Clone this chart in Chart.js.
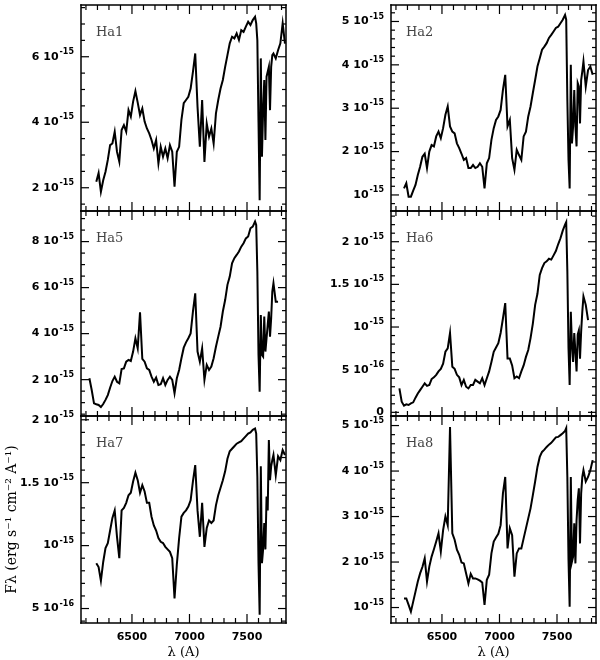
<!DOCTYPE html>
<html>
<head>
<meta charset="utf-8">
<script src="https://cdn.jsdelivr.net/npm/chart.js@4.4.1/dist/chart.umd.min.js"></script>
<style>
  body { margin: 0; background: #fff; }
  #wrap { position: relative; width: 600px; height: 660px; }
  #wrap canvas { position: absolute; left: 0; top: 0; }
</style>
</head>
<body>
<div id="wrap"></div>
<script>
// wavelength grid (Angstrom), finer around the telluric A band
const wavelength = [
  6130, 6150, 6170, 6190, 6210, 6230, 6250, 6270, 6290, 6310,
  6330, 6350, 6370, 6390, 6410, 6430, 6450, 6470, 6490, 6510,
  6530, 6550, 6570, 6590, 6610, 6630, 6650, 6670, 6690, 6710,
  6730, 6750, 6770, 6790, 6810, 6830, 6850, 6870, 6890, 6910,
  6930, 6950, 6970, 6990, 7010, 7030, 7050, 7070, 7090, 7110,
  7130, 7150, 7170, 7190, 7210, 7230, 7250, 7270, 7290, 7310,
  7330, 7350, 7370, 7390, 7410, 7430, 7450, 7470, 7490, 7510,
  7530, 7550, 7570,
  7580, 7590, 7600, 7610, 7620, 7630, 7640, 7650, 7660, 7670, 7680, 7690, 7700, 7710, 7720, 7730,
  7750, 7770, 7790, 7810, 7830
];

// flux in units of 1e-15 erg s-1 cm-2 A-1
const fluxHa1 = [
  null, null, null, 2.18, 2.45, 1.88, 2.23, 2.49, 2.85, 3.30,
  3.35, 3.71, 3.10, 2.80, 3.76, 3.91, 3.71, 4.37, 4.17, 4.63,
  4.95, 4.60, 4.22, 4.42, 4.02, 3.81, 3.66, 3.46, 3.20, 3.46,
  2.74, 3.25, 2.95, 3.20, 2.90, 3.30, 3.10, 2.03, 3.10, 3.25,
  4.07, 4.58, 4.68, 4.78, 5.03, 5.54, 6.10, 4.47, 3.25, 4.68,
  2.79, 3.96, 3.56, 3.81, 3.35, 4.27, 4.68, 5.03, 5.29, 5.69,
  6.05, 6.41, 6.61, 6.56, 6.71, 6.51, 6.81, 6.76, 6.92, 7.07,
  6.97, 7.12, 7.22,
  7.02, 6.50, 4.00, 1.62, 5.95, 2.95, 4.37, 5.29, 3.46, 5.39, 5.54, 5.69, 4.37, 5.69, 6.05, 6.10,
  5.95, 6.20, 6.41, 7.02, 6.40
];
const fluxHa2 = [
  null, null, 1.15, 1.27, 0.96, 0.96, 1.10, 1.23, 1.46, 1.65,
  1.88, 1.95, 1.62, 2.00, 2.15, 2.12, 2.35, 2.46, 2.31, 2.54,
  2.85, 3.04, 2.58, 2.46, 2.42, 2.19, 2.08, 1.95, 1.81, 1.85,
  1.62, 1.62, 1.69, 1.62, 1.65, 1.73, 1.65, 1.15, 1.73, 1.85,
  2.27, 2.54, 2.73, 2.81, 2.96, 3.42, 3.77, 2.58, 2.73, 1.85,
  1.58, 2.04, 1.92, 1.81, 2.35, 2.46, 2.81, 3.04, 3.35, 3.65,
  3.96, 4.15, 4.35, 4.42, 4.50, 4.62, 4.69, 4.77, 4.85, 4.88,
  4.96, 5.04, 5.15,
  5.04, 3.19, 1.81, 1.15, 4.00, 2.19, 2.58, 3.42, 2.58, 2.12, 3.58, 3.50, 2.65, 3.65, 3.85, 4.08,
  3.50, 3.88, 3.96, 3.77, null
];
const fluxHa5 = [
  2.06, 1.55, 0.97, 0.93, 0.90, 0.81, 0.94, 1.12, 1.33, 1.65,
  1.94, 2.13, 1.91, 1.84, 2.46, 2.49, 2.78, 2.86, 2.81, 3.22,
  3.80, 3.36, 4.93, 2.90, 2.78, 2.49, 2.42, 2.13, 1.91, 2.09,
  1.77, 1.80, 2.06, 1.77, 1.99, 2.13, 1.99, 1.41, 2.06, 2.42,
  2.93, 3.39, 3.62, 3.80, 4.01, 4.96, 5.75, 3.22, 2.78, 3.36,
  1.99, 2.64, 2.42, 2.57, 2.93, 3.43, 3.87, 4.30, 4.96, 5.46,
  6.12, 6.48, 7.06, 7.28, 7.42, 7.57, 7.78, 7.93, 8.14, 8.22,
  8.58, 8.65, 8.87,
  8.72, 6.70, 3.07, 1.48, 4.81, 3.07, 3.00, 4.74, 3.22, 3.80, 4.38, 4.96, 3.87, 4.67, 5.83, 6.19,
  5.39, 5.39, null, null, null
];
const fluxHa6 = [
  0.28, 0.125, 0.078, 0.094, 0.086, 0.105, 0.117, 0.172, 0.22, 0.26,
  0.30, 0.34, 0.31, 0.32, 0.39, 0.41, 0.44, 0.48, 0.51, 0.57,
  0.71, 0.75, 0.93, 0.535, 0.51, 0.44, 0.41, 0.32, 0.38, 0.30,
  0.28, 0.32, 0.32, 0.38, 0.36, 0.34, 0.40, 0.32, 0.40, 0.48,
  0.59, 0.71, 0.76, 0.81, 0.93, 1.10, 1.28, 0.63, 0.63, 0.55,
  0.40, 0.42, 0.40, 0.48, 0.55, 0.65, 0.73, 0.87, 1.04, 1.26,
  1.39, 1.61, 1.69, 1.75, 1.77, 1.80, 1.79, 1.84, 1.89, 1.97,
  2.04, 2.13, 2.20,
  2.23, 1.65, 0.75, 0.32, 1.18, 0.79, 0.59, 0.93, 0.71, 0.48, 0.91, 0.96, 0.63, 0.95, 1.18, 1.36,
  1.26, 1.08, null, null, null
];
const fluxHa7 = [
  null, null, null, 0.86, 0.83, 0.72, 0.87, 0.98, 1.02, 1.12,
  1.22, 1.28, 1.07, 0.90, 1.28, 1.30, 1.34, 1.40, 1.42, 1.51,
  1.58, 1.52, 1.42, 1.48, 1.43, 1.34, 1.34, 1.23, 1.16, 1.12,
  1.06, 1.03, 1.02, 0.99, 0.97, 0.95, 0.90, 0.58, 0.85, 1.06,
  1.23, 1.26, 1.28, 1.31, 1.36, 1.51, 1.64, 1.28, 1.07, 1.34,
  0.99, 1.14, 1.20, 1.18, 1.20, 1.32, 1.40, 1.46, 1.52, 1.59,
  1.69, 1.75, 1.77, 1.79, 1.81, 1.82, 1.83, 1.85, 1.87, 1.89,
  1.90, 1.92, 1.93,
  1.89, 1.55, 0.86, 0.45, 1.63, 0.86, 0.97, 1.18, 0.97, 1.39, 1.28, 1.84, 1.52, 1.63, 1.68, 1.72,
  1.56, 1.71, 1.68, 1.76, 1.72
];
const fluxHa8 = [
  null, null, 1.20, 1.20, 1.06, 0.91, 1.13, 1.35, 1.57, 1.75,
  1.89, 2.08, 1.57, 1.90, 2.12, 2.28, 2.45, 2.63, 2.23, 2.70,
  3.00, 2.81, 4.97, 2.63, 2.49, 2.27, 2.16, 1.99, 1.97, 1.75,
  1.53, 1.74, 1.64, 1.64, 1.62, 1.59, 1.55, 1.06, 1.61, 1.72,
  2.19, 2.45, 2.54, 2.62, 2.81, 3.51, 3.87, 2.30, 2.74, 2.59,
  1.68, 2.19, 2.30, 2.30, 2.52, 2.74, 2.96, 3.18, 3.47, 3.77,
  4.09, 4.31, 4.42, 4.47, 4.53, 4.58, 4.62, 4.68, 4.74, 4.75,
  4.79, 4.83, 4.88,
  4.94, 3.87, 2.05, 1.02, 3.87, 2.01, 2.12, 2.85, 1.97, 2.92, 3.36, 3.62, 2.41, 3.51, 3.87, 4.02,
  3.77, 3.87, 4.02, 4.24, null
];

const xTickValues = [6500, 7000, 7500];

// y tick labels: "mantissa^exponent"
const panels = [
  { name: 'Ha1', flux: fluxHa1, col: 0, row: 0, yMin: 1.29, yMax: 7.58, yMajor: 2, yMinor: 0.5,
    yTicks: [2, 4, 6], yLabels: ['2 10^-15', '4 10^-15', '6 10^-15'] },
  { name: 'Ha2', flux: fluxHa2, col: 1, row: 0, yMin: 0.63, yMax: 5.38, yMajor: 1, yMinor: 0.2,
    yTicks: [1, 2, 3, 4, 5], yLabels: ['10^-15', '2 10^-15', '3 10^-15', '4 10^-15', '5 10^-15'] },
  { name: 'Ha5', flux: fluxHa5, col: 0, row: 1, yMin: 0.42, yMax: 9.33, yMajor: 2, yMinor: 0.5,
    yTicks: [2, 4, 6, 8], yLabels: ['2 10^-15', '4 10^-15', '6 10^-15', '8 10^-15'] },
  { name: 'Ha6', flux: fluxHa6, col: 1, row: 1, yMin: -0.043, yMax: 2.36, yMajor: 0.5, yMinor: 0.1,
    yTicks: [0, 0.5, 1, 1.5, 2], yLabels: ['0', '5 10^-16', '10^-15', '1.5 10^-15', '2 10^-15'] },
  { name: 'Ha7', flux: fluxHa7, col: 0, row: 2, yMin: 0.385, yMax: 2.03, yMajor: 0.5, yMinor: 0.1,
    yTicks: [0.5, 1, 1.5, 2], yLabels: ['5 10^-16', '10^-15', '1.5 10^-15', '2 10^-15'] },
  { name: 'Ha8', flux: fluxHa8, col: 1, row: 2, yMin: 0.66, yMax: 5.21, yMajor: 1, yMinor: 0.2,
    yTicks: [1, 2, 3, 4, 5], yLabels: ['10^-15', '2 10^-15', '3 10^-15', '4 10^-15', '5 10^-15'] }
];

// page layout of the plot boxes
const colLeft = [81, 391], colRight = [286, 596], colStart = [0, 300];
const rowTop = [5, 211, 416], rowBottom = [211, 416, 623];
const W = 600, H = 660, xAxisH = 37;

// box with inward ticks on all four sides, y labels with raised exponent, panel name
function makeFrame(p) {
  return {
    id: 'frame' + p.name,
    afterDraw(chart) {
      const ctx = chart.ctx;
      const a = chart.chartArea;
      const x = chart.scales.x, y = chart.scales.y;
      ctx.save();
      ctx.fillStyle = '#000';
      // box
      ctx.fillRect(a.left - 0.75, a.top - 0.75, a.right - a.left + 1.5, 1.5);
      ctx.fillRect(a.left - 0.75, a.bottom - 0.75, a.right - a.left + 1.5, 1.5);
      ctx.fillRect(a.left - 0.75, a.top - 0.75, 1.5, a.bottom - a.top + 1.5);
      ctx.fillRect(a.right - 0.75, a.top - 0.75, 1.5, a.bottom - a.top + 1.5);
      // x ticks, every 100 A
      for (let v = 6100; v <= 7800; v += 100) {
        const px = x.getPixelForValue(v);
        const len = v % 500 === 0 ? 9 : 5;
        ctx.fillRect(px - 0.6, a.bottom - len, 1.2, len);
        ctx.fillRect(px - 0.6, a.top, 1.2, len);
      }
      // y ticks
      const k0 = Math.ceil(p.yMin / p.yMinor - 1e-9);
      for (let k = k0; k * p.yMinor <= p.yMax + 1e-9; k++) {
        const v = k * p.yMinor;
        const r = v / p.yMajor;
        const len = Math.abs(r - Math.round(r)) < 1e-6 ? 8 : 4;
        const py = y.getPixelForValue(v);
        ctx.fillRect(a.left, py - 0.6, len, 1.2);
        ctx.fillRect(a.right - len, py - 0.6, len, 1.2);
      }

      ctx.textBaseline = 'middle';
      ctx.textAlign = 'left';
      p.yTicks.forEach(function (v, i) {
        const parts = p.yLabels[i].split('^');
        const py = y.getPixelForValue(v);
        const right = a.left - 7;
        const expText = parts[1] ? parts[1] : '';
        ctx.font = 'bold 8px "DejaVu Sans"';
        const ew = expText ? ctx.measureText(expText).width : 0;
        ctx.font = 'bold 11px "DejaVu Sans"';
        const mw = ctx.measureText(parts[0]).width;
        ctx.fillText(parts[0], right - ew - mw - (expText ? 1 : 0), py);
        if (expText) {
          ctx.font = 'bold 8px "DejaVu Sans"';
          ctx.fillText(expText, right - ew, py - 5);
        }
      });

      ctx.fillStyle = '#444';
      ctx.font = '13px "DejaVu Serif"';
      ctx.fillText(p.name, a.left + 15, a.top + 28);
      ctx.restore();
    }
  };
}

const wrap = document.getElementById('wrap');

panels.forEach(function (p) {
  const canvas = document.createElement('canvas');
  canvas.width = W;
  canvas.height = H;
  wrap.appendChild(canvas);
  const bottomRow = p.row === 2;
  const yAxisW = colLeft[p.col] - colStart[p.col];

  new Chart(canvas.getContext('2d'), {
    type: 'line',
    data: {
      datasets: [{
        data: wavelength.map((w, j) => ({ x: w, y: p.flux[j] })),
        borderColor: '#000',
        borderWidth: 2,
        pointRadius: 0,
        tension: 0,
        spanGaps: false
      }]
    },
    options: {
      responsive: false,
      devicePixelRatio: 1,
      animation: false,
      events: [],
      layout: {
        autoPadding: false,
        padding: {
          left: colStart[p.col],
          right: W - colRight[p.col],
          top: rowTop[p.row],
          bottom: bottomRow ? H - rowBottom[p.row] - xAxisH : H - rowBottom[p.row]
        }
      },
      plugins: {
        legend: { display: false },
        tooltip: { enabled: false }
      },
      scales: {
        x: {
          type: 'linear',
          min: 6057,
          max: 7839,
          display: bottomRow,
          grid: { display: false, drawTicks: false },
          border: { display: false },
          afterBuildTicks: s => { s.ticks = xTickValues.map(v => ({ value: v })); },
          afterFit: s => { if (bottomRow) s.height = xAxisH; },
          ticks: {
            autoSkip: false,
            maxRotation: 0,
            padding: 8,
            color: '#000',
            font: { family: 'DejaVu Sans', weight: 'bold', size: 11 },
            callback: v => String(v)
          },
          title: {
            display: true,
            text: 'λ (A)',
            color: '#000',
            font: { family: 'DejaVu Serif', size: 13 },
            padding: { top: 1, bottom: 0 }
          }
        },
        y: {
          type: 'linear',
          min: p.yMin,
          max: p.yMax,
          grid: { display: false, drawTicks: false },
          border: { display: false },
          afterBuildTicks: s => { s.ticks = p.yTicks.map(v => ({ value: v })); },
          afterFit: s => { s.width = yAxisW; },
          ticks: { display: false },
          title: {
            display: p.name === 'Ha7',
            text: 'Fλ (erg s⁻¹ cm⁻² A⁻¹)',
            color: '#000',
            font: { family: 'DejaVu Serif', size: 14 },
            padding: { top: 4, bottom: 0 }
          }
        }
      }
    },
    plugins: [makeFrame(p)]
  });
});
</script>
</body>
</html>
